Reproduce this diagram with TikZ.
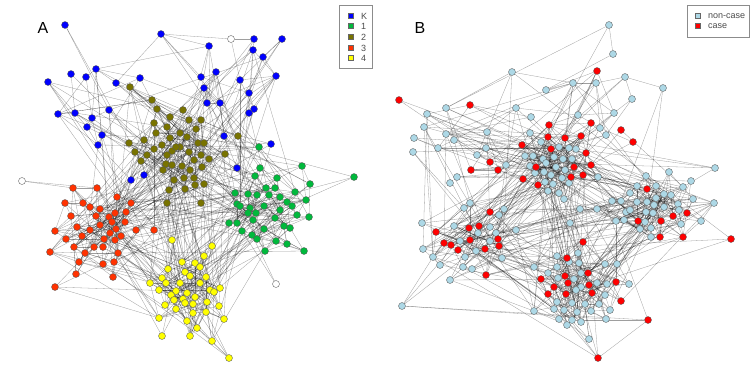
\documentclass[tikz,border=0pt]{standalone}
\usepackage{fontspec}
\setmainfont{Liberation Sans}
\pgfdeclarelayer{background}
\pgfsetlayers{background,main}
\definecolor{kblue}{RGB}{0,0,255}
\definecolor{gone}{RGB}{0,185,60}
\definecolor{otwo}{RGB}{120,115,0}
\definecolor{rthree}{RGB}{255,50,0}
\definecolor{yfour}{RGB}{255,255,0}
\definecolor{lblue}{RGB}{173,216,230}
\definecolor{cred}{RGB}{255,0,0}
\newcommand\clusteredges[4]{%
  \foreach \i in {1,...,#2}{%
    \foreach \j in {\i,...,#2}{%
      \ifnum\j>\i
        \pgfpointdiff{\pgfpointanchor{#1\i}{center}}{\pgfpointanchor{#1\j}{center}}%
        \pgfgetlastxy\myDx\myDy
        \pgfmathtruncatemacro\myOk{rnd<#3*exp(-veclen(\myDx,\myDy)/#4)}%
        \ifnum\myOk=1 \draw[edge] (#1\i) -- (#1\j);\fi
      \fi}}}
\newcommand\crossedges[5]{%
  \foreach \k in {1,...,#5}{%
    \pgfmathtruncatemacro\myP{random(1,#2)}%
    \pgfmathtruncatemacro\myQ{random(1,#4)}%
    \draw[edge] (#1\myP) -- (#3\myQ);}}
\begin{document}
\begin{tikzpicture}[x=1pt,y=-1pt,
  nd/.style={circle,inner sep=0pt,minimum size=7pt,draw=black!65,line width=0.35pt},
  nb/.style={nd,fill=lblue},
  rc/.style={nd,fill=cred},
  edge/.style={draw=black,line width=0.3pt,draw opacity=0.38},
  lsq/.style={rectangle,inner sep=0pt,minimum size=5pt,draw=black!60,line width=0.3pt},
  ltxt/.style={anchor=west,inner sep=0pt,font=\fontsize{9}{10}\selectfont,text=black!70},
  lbox/.style={draw=black!45,line width=0.4pt}]
\pgfmathsetseed{42}
\useasboundingbox (0,0) rectangle (754,384);
% ---------------- Panel A nodes ----------------
\foreach \x/\y [count=\i] in {65/25, 161/34, 209/46, 254/39, 282/39, 253/50, 263/57, 71/74, 96/69, 86/77, 48/82, 116/83, 140/78, 216/72, 201/77, 240/80, 276/76, 204/88, 249/93, 207/103, 220/103, 254/109, 249/113, 58/114, 75/113, 92/118, 109/110, 87/127, 102/135, 98/145, 224/136, 271/144, 237/168, 144/175, 131/180}
  {\node[nd,fill=kblue] (aK\i) at (\x,\y) {}; \xdef\nAK{\i}}
\foreach \x/\y [count=\i] in {130/87, 152/100, 157/109, 183/110, 170/117, 154/123, 189/120, 201/120, 167/127, 196/129, 156/133, 180/133, 170/138, 187/137, 198/143, 204/143, 129/143, 144/140, 162/145, 180/147, 154/149, 238/136, 135/152, 147/155, 172/151, 189/152, 201/155, 225/154, 141/161, 166/164, 172/165, 182/166, 194/160, 209/159, 163/170, 190/170, 202/167, 174/180, 184/178, 194/178, 204/184, 169/190, 185/189, 195/185, 167/203, 201/203, 176/147, 167/155}
  {\node[nd,fill=otwo] (aO\i) at (\x,\y) {}; \xdef\nAO{\i}}
\foreach \x/\y [count=\i] in {259/147, 302/166, 260/168, 354/177, 255/176, 277/178, 310/184, 266/188, 275/188, 295/192, 235/193, 248/194, 257/195, 269/195, 280/197, 287/202, 306/200, 237/204, 250/208, 264/206, 292/206, 280/210, 297/215, 309/217, 248/213, 256/213, 275/218, 229/223, 237/223, 253/220, 284/226, 290/228, 242/231, 264/229, 252/235, 257/239, 276/241, 287/244, 265/251, 304/251, 240/206}
  {\node[nd,fill=gone] (aG\i) at (\x,\y) {}; \xdef\nAG{\i}}
\foreach \x/\y [count=\i] in {73/188, 97/188, 117/197, 65/203, 83/203, 131/203, 90/207, 100/209, 115/213, 126/212, 71/216, 96/216, 109/217, 112/222, 125/222, 77/227, 100/225, 116/229, 55/231, 90/230, 136/230, 154/230, 82/236, 110/233, 121/236, 66/239, 104/239, 115/240, 74/247, 94/247, 103/247, 50/252, 85/253, 118/253, 79/262, 103/264, 114/262, 76/274, 113/277, 55/287}
  {\node[nd,fill=rthree] (aR\i) at (\x,\y) {}; \xdef\nAR{\i}}
\foreach \x/\y [count=\i] in {172/240, 212/246, 204/256, 182/262, 195/263, 168/269, 200/267, 185/272, 206/277, 162/278, 190/276, 150/283, 166/283, 180/283, 200/283, 159/290, 176/291, 187/293, 210/290, 220/288, 214/292, 171/295, 195/297, 183/299, 174/300, 207/302, 193/304, 219/306, 165/305, 176/309, 193/313, 206/312, 159/318, 187/321, 224/319, 197/328, 162/336, 190/336, 212/341, 229/358, 185/303}
  {\node[nd,fill=yfour] (aY\i) at (\x,\y) {}; \xdef\nAY{\i}}
\node[nd,fill=white] (aW1) at (231,39) {};
\node[nd,fill=white] (aW2) at (22,181) {};
\node[nd,fill=white] (aW3) at (276,284) {};
% ---------------- Panel B nodes ----------------
\foreach \x/\y/\s [count=\i] in {609/25/nb, 613/54/nb, 512/72/nb, 625/77/nb, 573/83/nb, 596/83/nb, 546/90/nb, 663/88/nb, 632/99/nb, 446/108/nb, 427/114/nb, 516/108/nb, 531/117/nb, 578/115/nb, 614/113/nb, 424/127/nb, 414/138/nb, 446/134/nb, 454/140/nb, 487/132/nb, 600/128/nb, 606/135/nb, 413/152/nb, 438/148/nb, 486/148/nb, 477/155/nb, 506/165/nb, 457/177/nb, 450/183/nb, 399/100/rc, 470/105/rc, 597/71/rc, 621/130/rc, 633/142/rc, 490/162/rc, 498/170/rc, 471/170/rc}
  {\node[\s] (bK\i) at (\x,\y) {}; \xdef\nBK{\i}}
\foreach \x/\y/\s [count=\i] in {530/133/nb, 525/156/nb, 541/142/nb, 559/147/nb, 569/148/nb, 576/149/nb, 533/156/nb, 543/159/nb, 554/157/nb, 563/159/nb, 572/159/nb, 530/166/nb, 546/163/nb, 556/167/nb, 565/170/nb, 535/173/nb, 544/172/nb, 551/175/nb, 562/178/nb, 545/182/nb, 553/184/nb, 569/183/nb, 548/191/nb, 559/193/nb, 564/199/nb, 598/177/nb, 549/125/rc, 591/123/rc, 548/137/rc, 565/138/rc, 581/136/rc, 522/145/rc, 551/149/rc, 586/153/rc, 536/167/rc, 574/167/rc, 591/165/rc, 571/177/rc, 583/175/rc, 523/179/rc, 538/185/rc}
  {\node[\s] (bO\i) at (\x,\y) {}; \xdef\nBO{\i}}
\foreach \x/\y/\s [count=\i] in {669/172/nb, 715/168/nb, 646/176/nb, 637/186/nb, 656/186/nb, 691/181/nb, 683/187/nb, 664/194/nb, 630/193/nb, 612/201/nb, 621/201/nb, 637/202/nb, 647/202/nb, 656/198/nb, 671/195/nb, 678/204/nb, 693/199/nb, 714/203/nb, 626/212/nb, 630/210/nb, 646/212/nb, 654/205/nb, 664/207/nb, 679/210/nb, 653/213/nb, 616/221/nb, 624/220/nb, 645/222/nb, 681/224/nb, 701/221/nb, 640/229/nb, 651/228/nb, 651/237/nb, 597/209/nb, 580/209/nb, 647/189/rc, 638/221/rc, 661/221/rc, 673/216/rc, 687/213/rc, 660/237/rc, 683/237/rc, 731/239/rc}
  {\node[\s] (bG\i) at (\x,\y) {}; \xdef\nBG{\i}}
\foreach \x/\y/\s [count=\i] in {422/223/nb, 464/208/nb, 470/203/nb, 504/209/nb, 499/215/nb, 454/226/nb, 490/227/nb, 496/233/nb, 516/230/nb, 460/241/nb, 478/233/nb, 490/241/nb, 423/249/nb, 433/257/nb, 465/257/nb, 476/251/nb, 502/258/nb, 440/265/nb, 463/267/nb, 472/269/nb, 450/280/nb, 402/306/nb, 490/212/rc, 479/226/rc, 469/228/rc, 436/232/rc, 470/240/rc, 498/239/rc, 444/243/rc, 451/245/rc, 499/246/rc, 458/250/rc, 485/249/rc, 486/275/rc}
  {\node[\s] (bR\i) at (\x,\y) {}; \xdef\nBR{\i}}
\foreach \x/\y/\s [count=\i] in {570/223/nb, 534/267/nb, 557/256/nb, 578/253/nb, 569/262/nb, 579/263/nb, 557/267/nb, 548/273/nb, 558/278/nb, 581/273/nb, 574/279/nb, 605/264/nb, 617/264/nb, 581/287/nb, 597/283/nb, 607/284/nb, 629/284/nb, 576/290/nb, 605/295/nb, 557/302/nb, 572/303/nb, 585/304/nb, 599/304/nb, 610/310/nb, 534/311/nb, 554/309/nb, 564/310/nb, 577/312/nb, 591/311/nb, 559/319/nb, 572/320/nb, 581/322/nb, 606/319/nb, 567/325/nb, 589/339/nb, 583/242/rc, 567/258/rc, 541/279/rc, 565/276/rc, 588/273/rc, 568/283/rc, 554/287/rc, 589/285/rc, 616/282/rc, 548/294/rc, 566/294/rc, 592/293/rc, 621/301/rc, 648/320/rc, 598/358/rc}
  {\node[\s] (bY\i) at (\x,\y) {}; \xdef\nBY{\i}}
% ---------------- labels and legends ----------------
\node[font=\fontsize{16}{16}\selectfont] (labA) at (43,28) {A};
\node[font=\fontsize{16}{16}\selectfont] (labB) at (420,28) {B};
\draw[lbox] (339,5) rectangle (372,68);
\foreach \c/\t/\y [count=\i] in {kblue/K/16, gone/1/26, otwo/2/37, rthree/3/48, yfour/4/58}
  {\node[lsq,fill=\c] (lsqA\i) at (351,\y) {};
   \node[ltxt] (ltA\i) at (361,\y) {\t};}
\draw[lbox] (687,5) rectangle (749,37);
\node[lsq,fill=lblue] (lsqB1) at (698,16) {};
\node[ltxt] (ltB1) at (708,16) {non-case};
\node[lsq,fill=cred] (lsqB2) at (698,26) {};
\node[ltxt] (ltB2) at (708,26) {case};
% ---------------- edges ----------------
\begin{pgfonlayer}{background}
\fill[white] (0,0) rectangle (754,384);
\clusteredges{aK}{\nAK}{0.45}{45}
\clusteredges{aO}{\nAO}{0.6}{25}
\clusteredges{aG}{\nAG}{0.6}{25}
\clusteredges{aR}{\nAR}{0.6}{25}
\clusteredges{aY}{\nAY}{0.6}{25}
\crossedges{aK}{\nAK}{aO}{\nAO}{35}
\crossedges{aO}{\nAO}{aG}{\nAG}{30}
\crossedges{aO}{\nAO}{aR}{\nAR}{40}
\crossedges{aO}{\nAO}{aY}{\nAY}{35}
\crossedges{aR}{\nAR}{aY}{\nAY}{35}
\crossedges{aG}{\nAG}{aY}{\nAY}{30}
\crossedges{aR}{\nAR}{aG}{\nAG}{25}
\crossedges{aK}{\nAK}{aG}{\nAG}{20}
\crossedges{aK}{\nAK}{aR}{\nAR}{15}
\crossedges{aK}{\nAK}{aY}{\nAY}{5}
\draw[edge] (aW1) -- (aK2); \draw[edge] (aW1) -- (aK4); \draw[edge] (aW1) -- (aK16);
\draw[edge] (aW2) -- (aR1); \draw[edge] (aW2) -- (aR2);
\draw[edge] (aW3) -- (aG35); \draw[edge] (aW3) -- (aG33);
\clusteredges{bK}{\nBK}{0.45}{45}
\clusteredges{bO}{\nBO}{0.6}{25}
\clusteredges{bG}{\nBG}{0.6}{25}
\clusteredges{bR}{\nBR}{0.6}{25}
\clusteredges{bY}{\nBY}{0.6}{25}
\crossedges{bK}{\nBK}{bO}{\nBO}{40}
\crossedges{bO}{\nBO}{bG}{\nBG}{30}
\crossedges{bO}{\nBO}{bR}{\nBR}{35}
\crossedges{bO}{\nBO}{bY}{\nBY}{35}
\crossedges{bR}{\nBR}{bY}{\nBY}{35}
\crossedges{bG}{\nBG}{bY}{\nBY}{35}
\crossedges{bR}{\nBR}{bG}{\nBG}{25}
\crossedges{bK}{\nBK}{bG}{\nBG}{15}
\crossedges{bK}{\nBK}{bR}{\nBR}{20}
\end{pgfonlayer}
\end{tikzpicture}
\end{document}
